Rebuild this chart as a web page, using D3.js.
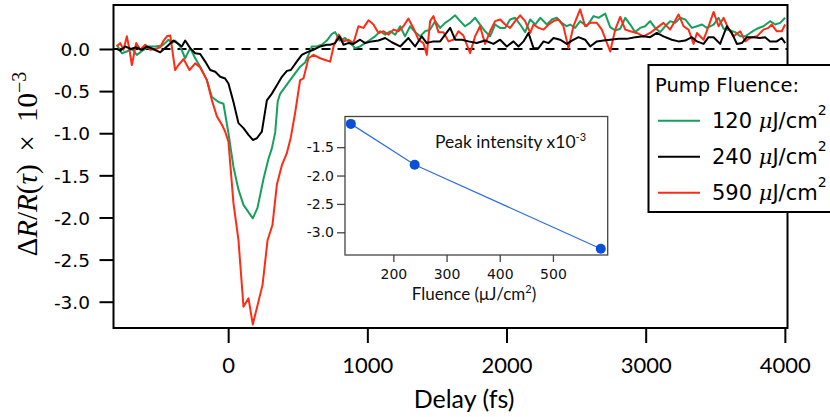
<!DOCTYPE html>
<html><head><meta charset="utf-8">
<script src="https://cdn.jsdelivr.net/npm/d3@7"></script>
<style>body{margin:0;background:#fff}svg{display:block}</style>
</head><body><svg id="c" width="830" height="417"></svg>
<script>
// ---- data ----
const seriesLabels = ["120", "240", "590"];
const seriesColors = ["#17a05d", "#000000", "#ff2b14"];
// [delay (fs), dR/R x1e-3]
const green120 = [[-800,0.05],[-764,-0.05],[-728,-0.03],[-692,0.00],[-656,-0.07],[-608,-0.01],[-572,0.03],[-524,0.03],[-476,0.04],[-453,0.07],[-429,0.11],[-405,0.07],[-381,0.10],[-345,0.03],[-309,-0.11],[-273,0.01],[-237,-0.11],[-201,-0.21],[-153,-0.37],[-117,-0.57],[-69,-0.63],[-34,-0.65],[2,-1.00],[38,-1.40],[74,-1.67],[110,-1.85],[177,-2.01],[210,-1.89],[254,-1.54],[290,-1.30],[314,-1.18],[338,-0.99],[356,-0.62],[374,-0.53],[410,-0.45],[445,-0.37],[481,-0.29],[517,-0.21],[553,-0.16],[577,-0.07],[601,0.03],[637,0.03],[673,0.05],[709,0.10],[745,0.18],[769,0.20],[800,0.10],[840,0.13],[876,0.07],[912,0.01],[948,0.03],[984,0.07],[1020,0.11],[1056,0.15],[1092,0.21],[1128,0.17],[1164,0.21],[1200,0.17],[1236,0.27],[1271,0.15],[1307,0.27],[1343,0.20],[1379,0.15],[1415,0.21],[1451,0.23],[1487,0.33],[1523,0.25],[1559,0.31],[1595,0.35],[1631,0.40],[1667,0.33],[1702,0.27],[1738,0.31],[1774,0.37],[1810,0.29],[1846,0.21],[1882,0.15],[1918,0.29],[1954,0.25],[1990,0.25],[2026,0.35],[2062,0.37],[2098,0.29],[2134,0.20],[2170,0.35],[2206,0.29],[2242,0.37],[2290,0.29],[2326,0.35],[2362,0.37],[2397,0.31],[2433,0.27],[2457,0.29],[2493,0.25],[2529,0.33],[2577,0.27],[2625,0.39],[2661,0.37],[2709,0.42],[2745,0.26],[2781,0.22],[2817,0.24],[2853,0.37],[2889,0.29],[2924,0.20],[2960,0.25],[2996,0.27],[3032,0.33],[3068,0.25],[3104,0.20],[3140,0.27],[3176,0.33],[3212,0.31],[3248,0.37],[3284,0.35],[3332,0.25],[3368,0.27],[3404,0.29],[3440,0.25],[3488,0.29],[3524,0.37],[3560,0.24],[3607,0.22],[3643,0.20],[3679,0.15],[3715,0.15],[3751,0.19],[3799,0.24],[3846,0.27],[3894,0.33],[3930,0.29],[3966,0.31],[4002,0.37]];
const black240 = [[-800,0.00],[-776,-0.02],[-740,0.03],[-700,0.00],[-660,0.02],[-620,-0.01],[-584,0.03],[-540,0.00],[-488,-0.04],[-440,0.03],[-393,0.10],[-365,0.07],[-333,0.03],[-309,0.10],[-273,0.01],[-237,-0.05],[-201,-0.06],[-165,-0.15],[-129,-0.25],[-93,-0.27],[-57,-0.33],[-22,-0.35],[2,-0.41],[38,-0.63],[74,-0.88],[110,-0.94],[146,-1.02],[177,-1.08],[206,-1.06],[242,-0.98],[278,-0.61],[314,-0.53],[350,-0.43],[386,-0.33],[422,-0.26],[450,-0.25],[493,-0.15],[529,-0.07],[565,-0.04],[613,-0.01],[661,0.03],[709,0.05],[733,0.05],[769,0.07],[800,0.15],[829,0.05],[864,0.07],[900,0.06],[948,0.11],[984,0.07],[1032,0.09],[1080,0.10],[1128,0.13],[1176,0.08],[1236,0.03],[1295,0.13],[1343,0.03],[1391,0.15],[1427,0.07],[1475,0.09],[1523,0.09],[1559,0.17],[1595,0.25],[1631,0.11],[1679,0.11],[1727,0.09],[1786,0.07],[1846,0.10],[1906,0.06],[1954,0.11],[2002,0.03],[2050,0.09],[2086,0.03],[2122,0.09],[2158,0.19],[2194,0.01],[2230,0.01],[2266,0.09],[2302,0.07],[2338,0.13],[2385,0.11],[2433,0.06],[2470,0.10],[2517,0.14],[2565,0.11],[2601,0.03],[2649,0.09],[2697,0.10],[2745,0.11],[2805,0.12],[2864,0.12],[2924,0.14],[2984,0.15],[3032,0.14],[3080,0.19],[3128,0.15],[3188,0.11],[3236,0.09],[3284,0.10],[3332,0.14],[3368,0.09],[3416,0.06],[3452,0.14],[3488,0.14],[3535,0.06],[3583,0.27],[3619,0.19],[3655,0.06],[3691,0.07],[3727,0.14],[3775,0.14],[3822,0.13],[3858,0.14],[3894,0.09],[3942,0.09],[3978,0.13],[4002,0.07]];
const red590 = [[-800,0.03],[-776,0.07],[-752,-0.01],[-728,0.15],[-710,0.00],[-692,-0.19],[-661,0.07],[-632,-0.01],[-596,0.05],[-560,-0.01],[-524,0.00],[-488,0.02],[-464,0.10],[-440,0.15],[-416,0.16],[-381,-0.25],[-357,-0.19],[-321,-0.12],[-278,-0.25],[-237,-0.17],[-201,-0.22],[-153,-0.37],[-117,-0.61],[-81,-0.80],[-45,-0.90],[-22,-0.98],[2,-1.10],[38,-1.83],[74,-2.27],[110,-3.06],[146,-2.96],[177,-3.27],[247,-2.80],[283,-2.27],[318,-2.09],[350,-1.61],[386,-1.38],[421,-1.24],[450,-1.05],[481,-0.76],[517,-0.37],[541,-0.35],[577,-0.11],[613,-0.07],[661,-0.11],[697,-0.13],[733,-0.15],[757,0.03],[793,0.17],[829,0.09],[864,0.11],[900,0.07],[936,0.27],[972,0.25],[1008,0.34],[1044,0.29],[1080,0.19],[1116,0.21],[1152,0.17],[1188,0.23],[1223,0.21],[1259,0.27],[1295,0.36],[1331,0.25],[1367,0.11],[1403,0.07],[1427,-0.07],[1451,0.33],[1475,0.39],[1511,0.20],[1547,0.20],[1583,0.09],[1619,0.11],[1655,0.21],[1690,0.16],[1738,-0.05],[1774,0.15],[1810,0.27],[1846,0.06],[1882,0.21],[1918,0.33],[1954,0.35],[1990,0.29],[2026,0.25],[2062,0.33],[2098,0.40],[2134,0.33],[2170,0.19],[2194,0.29],[2230,0.25],[2266,0.23],[2302,0.29],[2338,0.33],[2373,0.35],[2409,0.27],[2445,0.01],[2481,0.27],[2529,0.47],[2565,0.27],[2601,0.31],[2649,0.31],[2685,0.23],[2745,-0.03],[2781,0.23],[2817,0.38],[2853,0.23],[2889,0.21],[2936,0.19],[2984,0.15],[3032,0.19],[3080,0.25],[3128,0.31],[3176,0.23],[3236,0.41],[3272,0.27],[3308,0.23],[3344,0.06],[3368,0.19],[3416,0.11],[3452,0.27],[3488,0.44],[3524,0.27],[3560,0.37],[3595,0.24],[3631,0.15],[3679,0.21],[3715,0.09],[3751,0.13],[3799,0.15],[3846,0.23],[3882,0.25],[3906,0.29],[3942,0.21],[3978,0.21],[4002,0.29]];
const xTicks = [0, 1000, 2000, 3000, 4000];
const yTicks = [0, -0.5, -1.0, -1.5, -2.0, -2.5, -3.0];
const insetFluence = [120, 240, 590];
const insetPeak = [-1.09, -1.81, -3.29];
const insetXTicks = [200, 300, 400, 500];
const insetYTicks = [-1.5, -2.0, -2.5, -3.0];

// ---- drawing ----
const svg = d3.select("#c");
const X0 = 113.5, X1 = 787.5, Y0 = 5, Y1 = 328;
const x = d3.scaleLinear().domain([-824, 4019]).range([X0, X1]);
const y = d3.scaleLinear().domain([-3.312, 0.522]).range([Y1, Y0]);

svg.append("defs").append("clipPath").attr("id", "clip")
  .append("rect").attr("x", X0).attr("y", Y0).attr("width", X1 - X0).attr("height", Y1 - Y0);

const plot = svg.append("g").attr("clip-path", "url(#clip)");
plot.append("line").attr("x1", X0).attr("x2", X1).attr("y1", y(0)).attr("y2", y(0))
  .attr("stroke", "#000").attr("stroke-width", 2).attr("stroke-dasharray", "9,7");

const line = d3.line().x(d => x(d[0])).y(d => y(d[1]));
const drawOrder = [[green120, 0], [red590, 2], [black240, 1]];
drawOrder.forEach(([data, i]) => {
  plot.append("path").datum(data).attr("d", line).attr("fill", "none")
    .attr("stroke", seriesColors[i]).attr("stroke-width", 2).attr("stroke-linejoin", "round");
});

svg.append("rect").attr("x", X0).attr("y", Y0).attr("width", X1 - X0).attr("height", Y1 - Y0)
  .attr("fill", "none").attr("stroke", "#000").attr("stroke-width", 2);

// y axis
const yAxis = svg.append("g").attr("transform", `translate(${X0},0)`)
  .call(d3.axisLeft(y).tickValues(yTicks).tickSize(14).tickPadding(9.5).tickFormat(d3.format(".1f")));
yAxis.select(".domain").remove();
yAxis.selectAll(".tick line").attr("stroke", "#000").attr("stroke-width", 2);
yAxis.selectAll(".tick text").attr("font-family", "DejaVu Sans").attr("font-size", 18.5)
  .attr("fill", "#000").attr("dy", "0.36em").text(d => d3.format(".1f")(d).replace("−", "-"));

// x axis
const xAxis = svg.append("g").attr("transform", `translate(0,${Y1})`)
  .call(d3.axisBottom(x).tickValues(xTicks).tickSize(15).tickFormat(d3.format("d")));
xAxis.select(".domain").remove();
xAxis.selectAll(".tick line").attr("stroke", "#000").attr("stroke-width", 2);
xAxis.selectAll(".tick text").attr("font-family", "Lato").attr("font-size", 22)
  .attr("fill", "#000").attr("dy", null).attr("y", 45.3);

// axis titles
svg.append("text").attr("x", 464).attr("y", 408).attr("text-anchor", "middle")
  .attr("font-family", "Lato").attr("font-size", 25).attr("fill", "#000").text("Delay (fs)");

const yl = svg.append("text").attr("transform", "translate(37,164) rotate(-90)")
  .attr("text-anchor", "middle").attr("font-family", "Liberation Serif").attr("font-size", 29).attr("fill", "#000");
yl.append("tspan").text("Δ");
yl.append("tspan").attr("font-style", "italic").text("R");
yl.append("tspan").text("/");
yl.append("tspan").attr("font-style", "italic").text("R");
yl.append("tspan").text("(");
yl.append("tspan").attr("font-style", "italic").text("τ");
yl.append("tspan").text(") \u2009×\u2009 10");
yl.append("tspan").attr("font-size", 20).attr("dy", -11).text("−3");

// legend
const lg = svg.append("g");
lg.append("rect").attr("x", 648.5).attr("y", 65).attr("width", 200).attr("height", 147)
  .attr("fill", "#fff").attr("stroke", "#000").attr("stroke-width", 2);
lg.append("text").attr("x", 655).attr("y", 92).attr("font-family", "DejaVu Sans").attr("font-size", 19.5)
  .attr("fill", "#000").text("Pump Fluence:");
seriesLabels.forEach((lab, i) => {
  const ly = 120.7 + i * 36;
  lg.append("line").attr("x1", 658).attr("x2", 700).attr("y1", ly).attr("y2", ly)
    .attr("stroke", seriesColors[i]).attr("stroke-width", 2);
  const t = lg.append("text").attr("x", 712).attr("y", ly + 7.6).attr("font-family", "DejaVu Sans")
    .attr("font-size", 21).attr("fill", "#000");
  t.append("tspan").text(lab + " ");
  t.append("tspan").attr("font-family", "DejaVu Serif").attr("font-style", "italic").text("μ");
  t.append("tspan").text("J/cm");
  t.append("tspan").attr("font-size", 14).attr("dy", -13).text("2");
});

// inset
const IX0 = 345, IX1 = 607.7, IY0 = 116.5, IY1 = 255;
const ix = d3.scaleLinear().domain([109, 603]).range([IX0, IX1]);
const iy = d3.scaleLinear().domain([-3.40, -0.96]).range([IY1, IY0]);
const ins = svg.append("g");
ins.append("rect").attr("x", IX0).attr("y", IY0).attr("width", IX1 - IX0).attr("height", IY1 - IY0)
  .attr("fill", "#fff").attr("stroke", "#444").attr("stroke-width", 1.3);
const iya = ins.append("g").attr("transform", `translate(${IX0},0)`)
  .call(d3.axisLeft(iy).tickValues(insetYTicks).tickSize(8).tickPadding(3).tickFormat(d3.format(".1f")));
iya.select(".domain").remove();
iya.selectAll(".tick line").attr("stroke", "#444").attr("stroke-width", 1.3);
iya.selectAll(".tick text").attr("font-family", "DejaVu Sans").attr("font-size", 14).attr("fill", "#111")
  .text(d => d3.format(".1f")(d).replace("−", "-"));
const ixa = ins.append("g").attr("transform", `translate(0,${IY1})`)
  .call(d3.axisBottom(ix).tickValues(insetXTicks).tickSize(7).tickFormat(d3.format("d")));
ixa.select(".domain").remove();
ixa.selectAll(".tick line").attr("stroke", "#444").attr("stroke-width", 1.3);
ixa.selectAll(".tick text").attr("font-family", "DejaVu Sans").attr("font-size", 14).attr("fill", "#111")
  .attr("dy", null).attr("y", 23.5);

const pts = insetFluence.map((f, i) => [f, insetPeak[i]]);
ins.append("path").datum(pts).attr("d", d3.line().x(d => ix(d[0])).y(d => iy(d[1])))
  .attr("fill", "none").attr("stroke", "#2f6fe4").attr("stroke-width", 1.2);
ins.selectAll("circle").data(pts).join("circle").attr("cx", d => ix(d[0])).attr("cy", d => iy(d[1]))
  .attr("r", 5).attr("fill", "#0a4fd8");

const pk = ins.append("text").attr("x", 435).attr("y", 147.5).attr("font-family", "Lato")
  .attr("font-size", 17.5).attr("fill", "#111");
pk.append("tspan").text("Peak intensity x10");
pk.append("tspan").attr("font-size", 11).attr("dy", -7).text("-3");

const fl = ins.append("text").attr("x", 474).attr("y", 300).attr("text-anchor", "middle")
  .attr("font-family", "Lato").attr("font-size", 17).attr("fill", "#111");
fl.append("tspan").text("Fluence (μJ/cm");
fl.append("tspan").attr("font-size", 11).attr("dy", -7).text("2");
fl.append("tspan").attr("dy", 7).text(")");
</script></body></html>
